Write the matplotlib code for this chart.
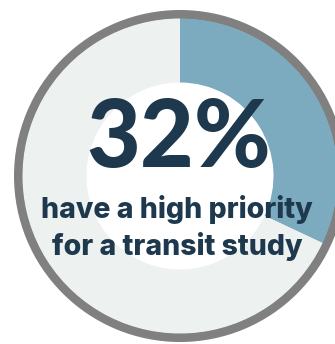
import matplotlib.pyplot as plt

# share of respondents, in percent
share = 32
values = [share, 100 - share]
colors = ['#7caabf', '#edf1f0']
headline = f'{share}%'
caption = ['have a high priority', 'for a transit study']

fig = plt.figure(figsize=(3.35, 3.44), dpi=100)
ax = fig.add_axes([0, 0, 1, 1])

cx, cy = 180, 168
navy = '#1e394e'

# outer grey rim
ax.pie([1], colors=['#808080'], radius=166, center=(cx, cy),
       wedgeprops=dict(width=9, linewidth=0))

# donut: highlighted share clockwise from 12 o'clock
ax.pie(values, colors=colors, radius=157.5, center=(cx, cy),
       startangle=90, counterclock=False,
       wedgeprops=dict(width=64, linewidth=0))

ax.text(cx - 1, 177, headline, ha='center', va='baseline',
        fontsize=67, fontweight=900, family='Lato', color=navy)
for line, y in zip(caption, [126, 89]):
    ax.text(cx - 3, y, line, ha='center', va='baseline',
            fontsize=20.5, fontweight=800, family='Inter', color=navy)

ax.set_xlim(0, 335)
ax.set_ylim(0, 344)
ax.set_aspect('equal')
ax.axis('off')

fig.savefig('out.png', dpi=100)
